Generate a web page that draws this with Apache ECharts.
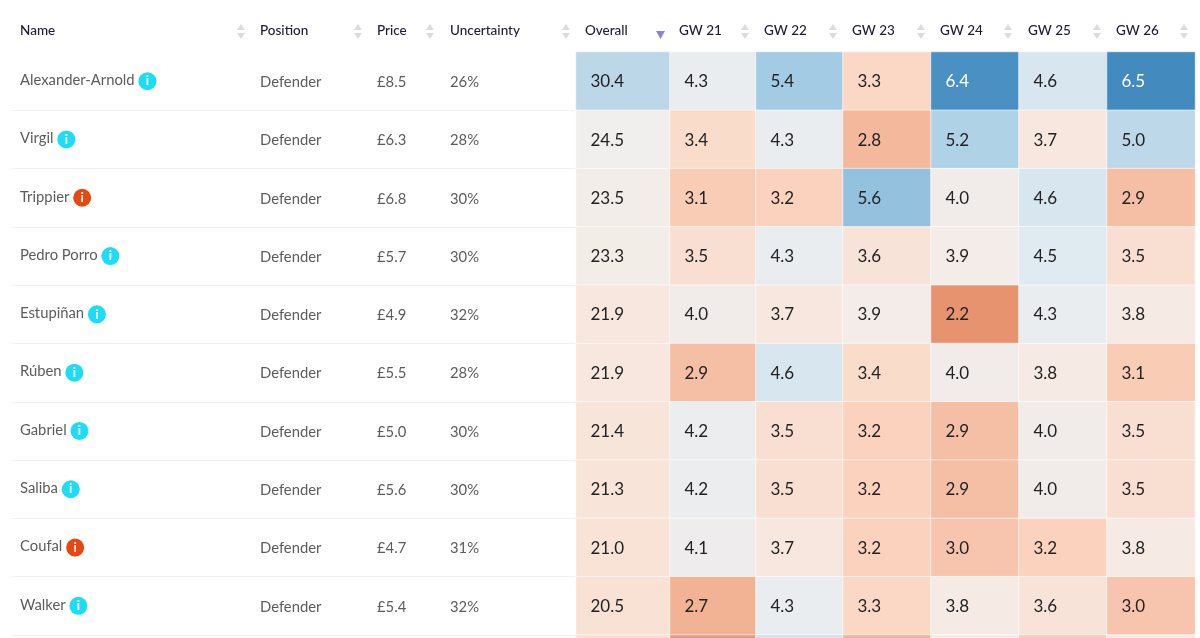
<!DOCTYPE html>
<html>
<head>
<meta charset="utf-8">
<style>html,body{margin:0;padding:0;background:#fff}#main{width:1200px;height:638px}</style>
<script src="https://cdn.jsdelivr.net/npm/echarts@6/dist/echarts.min.js"></script>
</head>
<body>
<div id="main"></div>
<script>
// table data, the last row is cut off by the bottom of the picture
var names = ['Alexander-Arnold', 'Virgil', 'Trippier', 'Pedro Porro', 'Estupiñan', 'Rúben', 'Gabriel', 'Saliba', 'Coufal', 'Walker', ''];
var flags = ['i', 'i', 'w', 'i', 'i', 'i', 'i', 'i', 'w', 'i', ''];
var positions = ['Defender', 'Defender', 'Defender', 'Defender', 'Defender', 'Defender', 'Defender', 'Defender', 'Defender', 'Defender', ''];
var prices = ['£8.5', '£6.3', '£6.8', '£5.7', '£4.9', '£5.5', '£5.0', '£5.6', '£4.7', '£5.4', ''];
var uncertainty = ['26%', '28%', '30%', '30%', '32%', '28%', '30%', '30%', '31%', '32%', ''];

var overall = [30.4, 24.5, 23.5, 23.3, 21.9, 21.9, 21.4, 21.3, 21.0, 20.5, 20.3];
var gw21 = [4.3, 3.4, 3.1, 3.5, 4.0, 2.9, 4.2, 4.2, 4.1, 2.7, 2.3];
var gw22 = [5.4, 4.3, 3.2, 4.3, 3.7, 4.6, 3.5, 3.5, 3.7, 4.3, 4.7];
var gw23 = [3.3, 2.8, 5.6, 3.6, 3.9, 3.4, 3.2, 3.2, 3.2, 3.3, 2.7];
var gw24 = [6.4, 5.2, 4.0, 3.9, 2.2, 4.0, 2.9, 2.9, 3.0, 3.8, 3.8];
var gw25 = [4.6, 3.7, 4.6, 4.5, 4.3, 3.8, 4.0, 4.0, 3.2, 3.6, 3.1];
var gw26 = [6.5, 5.0, 2.9, 3.5, 3.8, 3.1, 3.5, 3.5, 3.8, 3.0, 4.1];

var textHeads = ['Name', 'Position', 'Price', 'Uncertainty'];
var textCols = [names, positions, prices, uncertainty];
var textLefts = [12, 252, 369, 442];
var textEnds = [252, 369, 442, 576];
var heatHeads = ['Overall', 'GW 21', 'GW 22', 'GW 23', 'GW 24', 'GW 25', 'GW 26'];
var heatCols = [overall, gw21, gw22, gw23, gw24, gw25, gw26];
var heatEdges = [576, 670, 756, 843, 931, 1019, 1107, 1195];
var headX = [20, 260, 377, 450, 585, 679, 764, 852, 940, 1028, 1116];
var arrowX = [241, 358, 430, 566, 0, 745, 833, 921, 1008, 1097, 1184];

var rowCount = overall.length;
var rowH = 58.3;
var top0 = 52;
var rowIdx = overall.map(function (v, i) { return i; });
var font = 'Lato';

var grids = [], xAxes = [], yAxes = [], series = [], graphics = [];

// name, position, price, uncertainty columns are y axis labels
textCols.forEach(function (col, c) {
    grids.push({ left: textLefts[c], width: textEnds[c] - textLefts[c], top: top0, height: rowH * rowCount, outerBoundsMode: 'none' });
    xAxes.push({ gridIndex: c, type: 'category', data: [textHeads[c]], show: false });
    yAxes.push({
        gridIndex: c, type: 'category', inverse: true, data: rowIdx,
        axisLine: { show: false }, axisTick: { show: false },
        splitLine: { show: true, interval: 0, showMinLine: false, lineStyle: { color: '#f0f0f0', width: 1 } },
        axisLabel: {
            inside: true, interval: 0, margin: 8, color: '#5c5c5c',
            padding: [c === 0 ? 0 : 2, 0, 0, 0],
            fontFamily: font, fontSize: 14.8,
            formatter: function (i) {
                i = +i;
                if (c === 0 && col[i]) {
                    return '{n|' + col[i] + '} {' + flags[i] + '|i}';
                }
                return col[i];
            },
            rich: {
                n: { fontFamily: font, fontSize: 14.8, color: '#5c5c5c', padding: [0, 0, 2, 0] },
                i: { width: 18, height: 18, lineHeight: 18, borderRadius: 9, align: 'center', backgroundColor: '#1cdcf6', color: '#fff', fontWeight: 'bold', fontFamily: font, fontSize: 13 },
                w: { width: 18, height: 18, lineHeight: 18, borderRadius: 9, align: 'center', backgroundColor: '#e8470f', color: '#fff', fontWeight: 'bold', fontFamily: font, fontSize: 13 }
            }
        }
    });
});

// one heatmap per column since the widths differ slightly
heatCols.forEach(function (col, c) {
    var g = textCols.length + c;
    grids.push({ left: heatEdges[c], width: heatEdges[c + 1] - heatEdges[c], top: top0, height: rowH * rowCount, outerBoundsMode: 'none' });
    xAxes.push({ gridIndex: g, type: 'category', data: [heatHeads[c]], show: false });
    yAxes.push({ gridIndex: g, type: 'category', inverse: true, data: rowIdx, show: false });
    series.push({
        type: 'heatmap',
        xAxisIndex: g,
        yAxisIndex: g,
        itemStyle: { borderColor: '#ffffff', borderWidth: 0.6 },
        emphasis: { disabled: true },
        label: {
            show: true, position: [15, '51%'], verticalAlign: 'middle', align: 'left',
            fontFamily: font, fontSize: 17, color: '#222222',
            formatter: function (p) { return p.value[2].toFixed(1); }
        },
        data: col.map(function (v, i) {
            var item = { value: [0, i, v] };
            if (c > 0 && v >= 6) item.label = { color: '#ffffff' };
            return item;
        })
    });
});

// header text and sort arrows
textHeads.concat(heatHeads).forEach(function (h, c) {
    graphics.push({
        type: 'text', left: headX[c], top: 24,
        style: { text: h, fontFamily: font, fontSize: 13.5, fontWeight: 500, fill: '#1f1b36' }
    });
    var ax = arrowX[c];
    if (ax) {
        graphics.push({ type: 'polygon', shape: { points: [[ax - 4, 30], [ax + 4, 30], [ax, 24]] }, style: { fill: '#dcdcdc' } });
        graphics.push({ type: 'polygon', shape: { points: [[ax - 4, 33], [ax + 4, 33], [ax, 39]] }, style: { fill: '#dcdcdc' } });
    }
});
graphics.push({ type: 'polygon', shape: { points: [[656, 31], [665, 31], [660.5, 39]] }, style: { fill: '#8d83d6' } });

var chart = echarts.init(document.getElementById('main'));
chart.setOption({
    animation: false,
    backgroundColor: '#ffffff',
    grid: grids,
    xAxis: xAxes,
    yAxis: yAxes,
    graphic: graphics,
    visualMap: [
        {
            show: false, type: 'continuous', min: 19, max: 31, seriesIndex: [0], dimension: 2,
            inRange: { color: ['#f9dac8', '#f9e3d7', '#f4ece7', '#eff0f0', '#dce8ef', '#c9dfeb', '#b5d4e6'] }
        },
        {
            show: false, type: 'continuous', min: 2.2, max: 6.6, seriesIndex: [1, 2, 3, 4, 5, 6], dimension: 2,
            inRange: { color: ['#e8936f', '#f3b699', '#fbd8c5', '#f5ece7', '#e6edf2', '#c0dbea', '#9cc7e1', '#6aa6d0', '#3a84bb'] }
        }
    ],
    series: series
});
</script>
</body>
</html>
